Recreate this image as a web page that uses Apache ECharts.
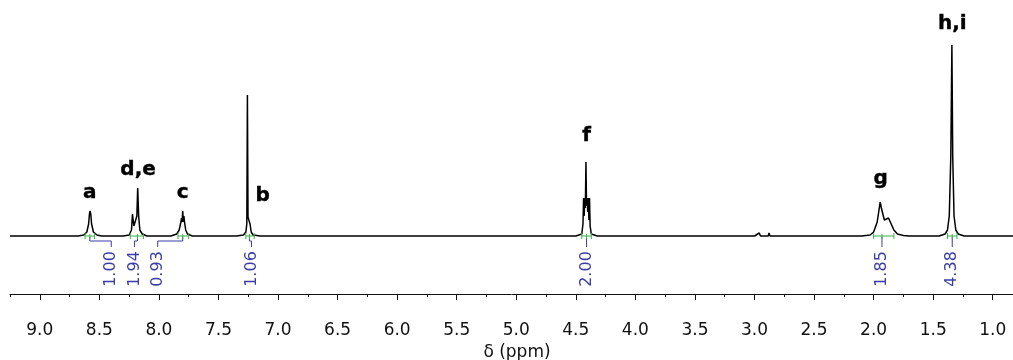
<!DOCTYPE html>
<html>
<head>
<meta charset="utf-8">
<script src="https://cdn.jsdelivr.net/npm/echarts@6/dist/echarts.min.js"></script>
<style>
html, body { margin: 0; padding: 0; background: #fff; }
#nmr { width: 1013px; height: 360px; }
</style>
</head>
<body>
<div id="nmr"></div>
<script>
// 1H NMR trace, [ppm, intensity]
var peakA = [[8.68, 0], [8.63, 0.5], [8.605, 2], [8.59, 6], [8.583, 11], [8.578, 12.5], [8.572, 11], [8.565, 6], [8.55, 2], [8.52, 0.5], [8.48, 0]];
var peakDE = [[8.30, 0], [8.25, 0.5], [8.23, 3], [8.222, 11], [8.216, 11], [8.21, 5], [8.195, 4], [8.185, 10], [8.178, 24], [8.17, 10], [8.16, 3], [8.14, 1], [8.10, 0]];
var peakC = [[7.90, 0], [7.85, 1], [7.83, 3], [7.815, 7], [7.81, 9], [7.805, 7], [7.80, 12.5], [7.795, 7], [7.79, 10], [7.785, 7], [7.775, 3], [7.76, 1], [7.72, 0]];
var peakB = [[7.35, 0], [7.29, 0.5], [7.27, 2], [7.262, 6], [7.257, 70.5], [7.252, 9.5], [7.245, 8], [7.24, 9], [7.235, 6], [7.225, 2], [7.21, 0.5], [7.15, 0]];
var peakF = [[4.50, 0], [4.45, 1], [4.44, 6], [4.435, 19], [4.43, 10], [4.425, 19], [4.42, 14], [4.415, 37], [4.41, 15], [4.405, 19], [4.40, 12], [4.395, 19], [4.39, 8], [4.385, 19], [4.38, 5], [4.37, 1], [4.32, 0]];
var smallBumps = [[3.00, 0], [2.96, 1.5], [2.95, 0], [2.885, 0], [2.878, 1.5], [2.87, 0]];
var peakG = [[2.10, 0], [2.03, 0.5], [2.00, 2], [1.97, 7], [1.955, 13], [1.945, 17], [1.935, 14], [1.91, 8], [1.895, 8], [1.875, 9], [1.86, 7], [1.83, 3], [1.80, 1], [1.75, 0.3], [1.70, 0]];
var peakHI = [[1.45, 0], [1.40, 1], [1.38, 3], [1.365, 10], [1.352, 40], [1.343, 95.5], [1.336, 40], [1.325, 10], [1.31, 3], [1.29, 1], [1.24, 0]];

var trace = [[9.25, 0]].concat(peakA, peakDE, peakC, peakB, peakF, smallBumps, peakG, peakHI, [[0.83, 0]]);

// peak assignment letters: text, ppm, height
var peakNames = ['a', 'd,e', 'c', 'b', 'f', 'g', 'h,i'];
var peakNamePpm = [8.58, 8.175, 7.80, 7.13, 4.41, 1.94, 1.34];
var peakNameY = [21.5, 33, 21.5, 20, 50, 28.5, 106];

// integrals
var intFrom = [8.62, 8.24, 7.84, 7.27, 4.45, 2.00, 1.38];
var intTo = [8.54, 8.13, 7.75, 7.20, 4.37, 1.83, 1.30];
var intMid = [8.58, 8.18, 7.80, 7.24, 4.41, 1.93, 1.34];
var intLabelAt = [8.40, 8.205, 8.01, 7.223, 4.41, 1.93, 1.34];
var intValues = ['1.00', '1.94', '0.93', '1.06', '2.00', '1.85', '4.38'];

// axis ticks
var majorTicks = [9.0, 8.5, 8.0, 7.5, 7.0, 6.5, 6.0, 5.5, 5.0, 4.5, 4.0, 3.5, 3.0, 2.5, 2.0, 1.5, 1.0];
var minorTicks = [9.25, 8.75, 8.25, 7.75, 7.25, 6.75, 6.25, 5.75, 5.25, 4.75, 4.25, 3.75, 3.25, 2.75, 2.25, 1.75, 1.25];

var green = '#3fae49';
var blue = '#3c3ca8';

var chart = echarts.init(document.getElementById('nmr'));

function renderIntegral(params, api) {
    var i = params.dataIndex;
    var p0 = api.coord([intFrom[i], 0]);
    var p1 = api.coord([intTo[i], 0]);
    var pc = api.coord([intMid[i], 0]);
    var pb = api.coord([intMid[i], -2.5]);
    var pl = api.coord([intLabelAt[i], -2.5]);
    var pt = api.coord([intLabelAt[i], -5.5]);
    var pText = api.coord([intLabelAt[i], -16.5]);
    return {
        type: 'group',
        children: [
            {type: 'polyline', shape: {points: [[pc[0], pc[1] + 1], pb, pl, pt]}, style: {stroke: blue, lineWidth: 1, fill: null}},
            {type: 'line', shape: {x1: p0[0], y1: p0[1], x2: p1[0], y2: p1[1]}, style: {stroke: green, lineWidth: 1}},
            {type: 'line', shape: {x1: p0[0], y1: p0[1] - 3, x2: p0[0], y2: p0[1] + 3}, style: {stroke: green, lineWidth: 1}},
            {type: 'line', shape: {x1: p1[0], y1: p1[1] - 3, x2: p1[0], y2: p1[1] + 3}, style: {stroke: green, lineWidth: 1}},
            {type: 'line', shape: {x1: pc[0], y1: pc[1] - 2, x2: pc[0], y2: pc[1] + 3}, style: {stroke: green, lineWidth: 1}},
            {
                type: 'text', x: pText[0], y: pText[1], rotation: Math.PI / 2,
                style: {text: intValues[i], font: '16px "DejaVu Sans"', fill: blue, align: 'center', verticalAlign: 'middle'}
            }
        ]
    };
}

var option = {
    animation: false,
    backgroundColor: '#fff',
    grid: {left: 10, right: 0, top: 6, bottom: 66, outerBoundsMode: 'none', containLabel: false},
    xAxis: [
        {
            type: 'value',
            min: 0.83,
            max: 9.25,
            inverse: true,
            name: 'δ (ppm)',
            nameLocation: 'middle',
            nameGap: 44,
            nameTextStyle: {fontFamily: 'DejaVu Sans', fontSize: 17, color: '#111', padding: [0, 0, 0, 11]},
            axisLine: {onZero: false, lineStyle: {color: '#111', width: 1}},
            axisTick: {customValues: majorTicks, length: 6, lineStyle: {color: '#111'}},
            axisLabel: {
                customValues: majorTicks,
                margin: 28,
                fontFamily: 'DejaVu Sans',
                fontSize: 17,
                color: '#111',
                formatter: function (v) { return v.toFixed(1); }
            },
            splitLine: {show: false}
        },
        {
            // minor ticks
            type: 'value',
            min: 0.83,
            max: 9.25,
            inverse: true,
            position: 'bottom',
            offset: 0,
            axisLine: {show: false, onZero: false},
            axisTick: {customValues: minorTicks, length: 3, lineStyle: {color: '#111'}},
            axisLabel: {show: false},
            splitLine: {show: false}
        }
    ],
    yAxis: {type: 'value', min: -29, max: 115, show: false},
    series: [
        {
            type: 'line',
            data: trace,
            symbol: 'none',
            lineStyle: {color: '#000', width: 1.5},
            z: 3
        },
        {
            type: 'custom',
            renderItem: renderIntegral,
            data: intMid.map(function (m) { return [m, 0]; }),
            encode: {x: 0, y: 1},
            z: 4
        },
        {
            type: 'scatter',
            symbolSize: 0,
            itemStyle: {opacity: 1},
            data: peakNamePpm.map(function (p, i) { return [p, peakNameY[i]]; }),
            label: {
                show: true,
                position: 'inside',
                formatter: function (d) { return peakNames[d.dataIndex]; },
                fontFamily: 'DejaVu Sans',
                fontWeight: 'bold',
                fontSize: 20,
                color: '#000',
                textBorderWidth: 0.4,
                textBorderColor: '#000'
            },
            z: 5
        }
    ]
};
chart.setOption(option);
</script>
</body>
</html>
